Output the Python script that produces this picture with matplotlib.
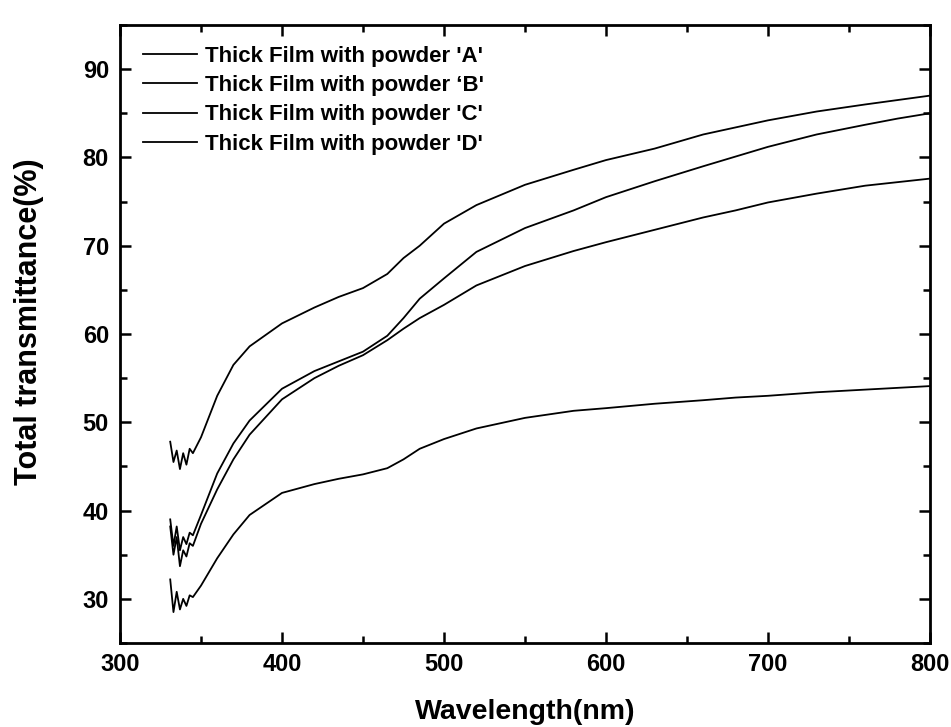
import numpy as np
import matplotlib
matplotlib.use("Agg")
import matplotlib.pyplot as plt
from matplotlib.ticker import MultipleLocator

# wavelength points (nm)
wl = [331, 333, 335, 337, 339, 341, 343, 345, 350, 360, 370, 380, 400, 420, 435,
      450, 465, 475, 485, 500, 520, 550, 580, 600, 630, 660, 680, 700, 730, 760, 780, 800]

film_a = [47.8, 45.5, 46.8, 44.7, 46.5, 45.2, 47.0, 46.5, 48.3, 53.0, 56.5, 58.6, 61.2, 63.0,
          64.2, 65.2, 66.8, 68.6, 70.0, 72.5, 74.6, 76.9, 78.6, 79.7, 81.0, 82.6, 83.4, 84.2,
          85.2, 86.0, 86.5, 87.0]
film_b = [39.0, 36.0, 38.2, 35.5, 37.0, 36.2, 37.5, 37.2, 39.5, 44.2, 47.6, 50.2, 53.8, 55.8,
          56.9, 58.0, 59.8, 61.8, 64.0, 66.3, 69.3, 72.0, 74.0, 75.5, 77.3, 79.0, 80.1, 81.2,
          82.6, 83.7, 84.4, 85.0]
film_c = [38.2, 35.0, 37.0, 33.7, 35.5, 34.8, 36.3, 36.0, 38.5, 42.4, 45.8, 48.6, 52.6, 55.0,
          56.4, 57.6, 59.3, 60.6, 61.8, 63.3, 65.5, 67.7, 69.4, 70.4, 71.8, 73.2, 74.0, 74.9,
          75.9, 76.8, 77.2, 77.6]
film_d = [32.2, 28.5, 30.8, 28.8, 30.0, 29.2, 30.4, 30.2, 31.5, 34.6, 37.3, 39.5, 42.0, 43.0,
          43.6, 44.1, 44.8, 45.8, 47.0, 48.1, 49.3, 50.5, 51.3, 51.6, 52.1, 52.5, 52.8, 53.0,
          53.4, 53.7, 53.9, 54.1]

labels = ["Thick Film with powder 'A'", "Thick Film with powder \u2018B'",
          "Thick Film with powder 'C'", "Thick Film with powder 'D'"]

plt.rcParams['font.family'] = ['Liberation Sans', 'DejaVu Sans']
plt.rcParams['font.weight'] = 'bold'

fig = plt.figure(figsize=(9.51, 7.27), dpi=100)
ax = fig.add_axes([120 / 951, 1 - 643 / 727, 810 / 951, 618 / 727])

for ys, lab in zip([film_a, film_b, film_c, film_d], labels):
    ax.plot(wl, ys, color="black", lw=1.3, label=lab)

ax.set_xlim(300, 800)
ax.set_ylim(25, 95)
ax.xaxis.set_major_locator(MultipleLocator(100))
ax.xaxis.set_minor_locator(MultipleLocator(50))
ax.yaxis.set_major_locator(MultipleLocator(10))
ax.yaxis.set_minor_locator(MultipleLocator(5))
ax.tick_params(which="both", direction="in", top=True, right=True, width=1.8,
               labelsize=17)
ax.tick_params(which="major", length=8)
ax.tick_params(which="minor", length=5)
ax.tick_params(axis="x", pad=7)
ax.tick_params(axis="y", pad=8)
for lbl in ax.get_xticklabels() + ax.get_yticklabels():
    lbl.set_fontweight("bold")
for sp in ax.spines.values():
    sp.set_linewidth(2)

ax.set_xlabel("Wavelength(nm)", fontsize=20.5, fontweight="bold", labelpad=17)
ax.set_ylabel("Total transmittance(%)", fontsize=22, fontweight="bold", labelpad=28,
              y=0.52)

ax.legend(loc="upper left", frameon=False, handlelength=2.45,
          handletextpad=0.36, labelspacing=0.37, borderpad=0, borderaxespad=0,
          bbox_to_anchor=(143 / 951, 1 - 46 / 727), bbox_transform=fig.transFigure,
          prop={"weight": "bold", "size": 16})

fig.savefig("out.png", dpi=100)
